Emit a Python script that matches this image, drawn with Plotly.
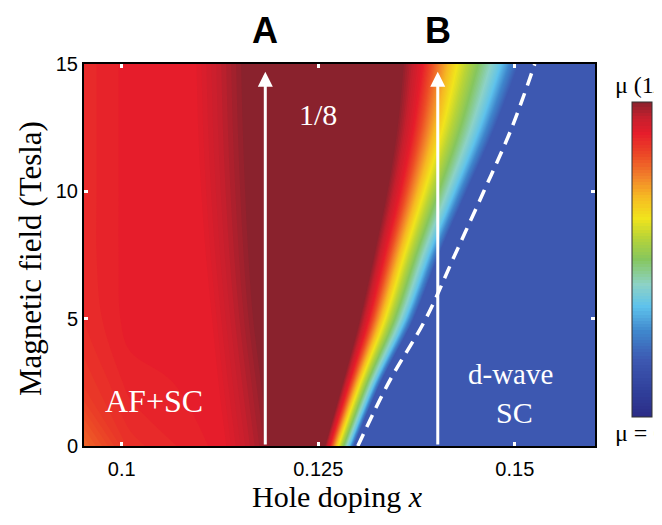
import plotly.graph_objects as go

# ---------------- data ----------------
field_T = [0, 2.5, 5, 7.5, 10, 12.5, 15]

# AF+SC side: fixed sample columns and mu there, per field
x_left_cols = [0.094, 0.101]
mu_left_edge = [0.78, 0.85, 0.87, 0.875, 0.875, 0.875, 0.875]
mu_at_0101 = [0.87, 0.89, 0.9, 0.9, 0.9, 0.9, 0.9]
# where bright red (mu=0.90) ends and where full dark red (mu=1.0) starts
x_red_end = [0.1130, 0.1120, 0.1112, 0.1104, 0.1098, 0.1094, 0.1092]
x_dark_start = [0.1190, 0.1180, 0.1170, 0.1164, 0.1160, 0.1157, 0.1155]

# transition band: doping where mu crosses each level, per field
mu_levels = [1.0, 0.90, 0.76, 0.63, 0.50, 0.36, 0.18]
x_mu100 = [0.12583, 0.12812, 0.13028, 0.13206, 0.13372, 0.13499, 0.13575]
x_mu90 = [0.12646, 0.12894, 0.13145, 0.13346, 0.13545, 0.13711, 0.13826]
x_mu76 = [0.12701, 0.12967, 0.13248, 0.13471, 0.13697, 0.13898, 0.14047]
x_mu63 = [0.12756, 0.13039, 0.13351, 0.13595, 0.13850, 0.14085, 0.14269]
x_mu50 = [0.12823, 0.13126, 0.13475, 0.13744, 0.14033, 0.14309, 0.14534]
x_mu36 = [0.12893, 0.13218, 0.13606, 0.13901, 0.14227, 0.14546, 0.14814]
x_mu18 = [0.12952, 0.13295, 0.13715, 0.14033, 0.14389, 0.14746, 0.15051]
x_right_col = 0.165
mu_dwave = 0.18

# dashed boundary line
boundary_field = [0, 2.5, 5, 7.5, 10, 12.5, 15]
boundary_x = [0.13003, 0.13397, 0.13868, 0.14237, 0.14606, 0.14962, 0.15254]

# measurement cuts A and B
cut_labels = ["A", "B"]
cut_x = [0.11826, 0.14020]
cut_top = 14.7

x_ticks = [0.1, 0.125, 0.15]
x_ticktext = ["0.1", "0.125", "0.15"]
y_ticks = [0, 5, 10, 15]

colorscale = [
    [0.00, "#2b2c86"], [0.08, "#303f9a"], [0.18, "#3d58b1"], [0.27, "#3f86cc"],
    [0.35, "#5ec2ec"], [0.42, "#8dd2c6"], [0.50, "#86c65e"], [0.57, "#b9d437"],
    [0.63, "#f1e41c"], [0.70, "#f6b923"], [0.76, "#f2832a"], [0.83, "#ec4a26"],
    [0.90, "#e61d2b"], [0.95, "#c51f2d"], [1.00, "#8a222d"],
]

# ---------------- build carpet grid ----------------
band_x = [x_mu100, x_mu90, x_mu76, x_mu63, x_mu50, x_mu36, x_mu18]
x_rows, y_rows, z_rows = [], [], []
for i, B in enumerate(field_T):
    xr = x_left_cols + [x_red_end[i], x_dark_start[i]] + [bx[i] for bx in band_x] + [x_right_col]
    zr = [mu_left_edge[i], mu_at_0101[i], 0.90, 1.0] + mu_levels + [mu_dwave]
    x_rows.append(xr)
    y_rows.append([B] * len(xr))
    z_rows.append(zr)
a_idx = list(range(len(x_rows[0])))

hidden = dict(showgrid=False, showline=False, showticklabels="none",
              startline=False, endline=False, gridcolor="rgba(0,0,0,0)",
              linecolor="rgba(0,0,0,0)", minorgridcount=0)

fig = go.Figure()
fig.add_trace(go.Carpet(a=a_idx, b=field_T, x=x_rows, y=y_rows, carpet="mu",
                        aaxis=dict(smoothing=0, **hidden),
                        baxis=dict(smoothing=1, **hidden)))
fig.add_trace(go.Contourcarpet(
    a=a_idx, b=field_T, z=z_rows, carpet="mu", colorscale=colorscale,
    autocontour=False,
    contours=dict(start=0.005, end=0.995, size=0.01, coloring="fill", showlines=False),
    line=dict(width=0),
    colorbar=dict(x=1.0724, xanchor="left", y=0.4882, yanchor="middle", len=0.8246,
                  lenmode="fraction", thickness=20, thicknessmode="pixels",
                  xpad=0, ypad=0, outlinewidth=1, outlinecolor="#333",
                  showticklabels=False, ticks=""),
))

fig.add_trace(go.Scatter(x=boundary_x, y=boundary_field, mode="lines",
                         line=dict(color="white", width=3.5, dash="13px,8px",
                                   shape="spline"),
                         hoverinfo="skip"))

annotations = []
for lab, cx in zip(cut_labels, cut_x):
    annotations.append(dict(x=cx, y=cut_top, ax=cx, ay=0, xref="x", yref="y",
                            axref="x", ayref="y", text="", showarrow=True,
                            arrowhead=2, arrowsize=1, arrowwidth=3, arrowcolor="white",
                            standoff=0))
    annotations.append(dict(x=cx, y=1.089, xref="x", yref="paper", text=lab,
                            showarrow=False, xanchor="center", yanchor="middle",
                            font=dict(family="Liberation Sans, Arial", size=36,
                                      color="black", weight="bold")))

serif = "Liberation Serif, Times New Roman, serif"
for txt, xp, yp, sz in [("1/8", 0.458, 0.8665, 30), ("AF+SC", 0.137, 0.118, 32),
                        ("d-wave", 0.8356, 0.1885, 29), ("SC", 0.8415, 0.0864, 30)]:
    annotations.append(dict(x=xp, y=yp, xref="paper", yref="paper", text=txt,
                            showarrow=False, xanchor="center", yanchor="middle",
                            font=dict(family=serif, size=sz, color="white")))

annotations.append(dict(x=-0.1057, y=0.492, xref="paper", yref="paper",
                        text="Magnetic field (Tesla)", textangle=-90, showarrow=False,
                        xanchor="center", yanchor="middle",
                        font=dict(family=serif, size=31, color="black")))
annotations.append(dict(x=0.497, y=-0.1335, xref="paper", yref="paper",
                        text="Hole doping <i>x</i>", showarrow=False,
                        xanchor="center", yanchor="middle",
                        font=dict(family=serif, size=30, color="black")))
annotations.append(dict(x=1.0352, y=0.945, xref="paper", yref="paper",
                        text="μ (1/8)", showarrow=False, xanchor="left", yanchor="middle",
                        font=dict(family=serif, size=24, color="black")))
annotations.append(dict(x=1.0352, y=0.034, xref="paper", yref="paper",
                        text="μ = 0", showarrow=False, xanchor="left", yanchor="middle",
                        font=dict(family=serif, size=24, color="black")))

axis_common = dict(ticks="inside", ticklen=4, tickwidth=3, tickcolor="white",
                   showline=True, linecolor="black", linewidth=2, mirror="ticks",
                   showgrid=False, zeroline=False,
                   tickfont=dict(family="Liberation Sans, Arial", size=20, color="black"))

fig.update_layout(
    width=662, height=525,
    # the page body adds an 8 px offset, so the plot area is placed 8 px up/left
    margin=dict(l=76, r=75, t=56, b=87),
    paper_bgcolor="white", plot_bgcolor="#3d58b1",
    showlegend=False,
    xaxis=dict(range=[0.0952, 0.1602], tickvals=x_ticks, ticktext=x_ticktext,
               ticklabelstandoff=4, **axis_common),
    yaxis=dict(range=[0, 15], tickvals=y_ticks, ticklabelstandoff=0, **axis_common),
    annotations=annotations,
)

fig.write_html("out.html")
